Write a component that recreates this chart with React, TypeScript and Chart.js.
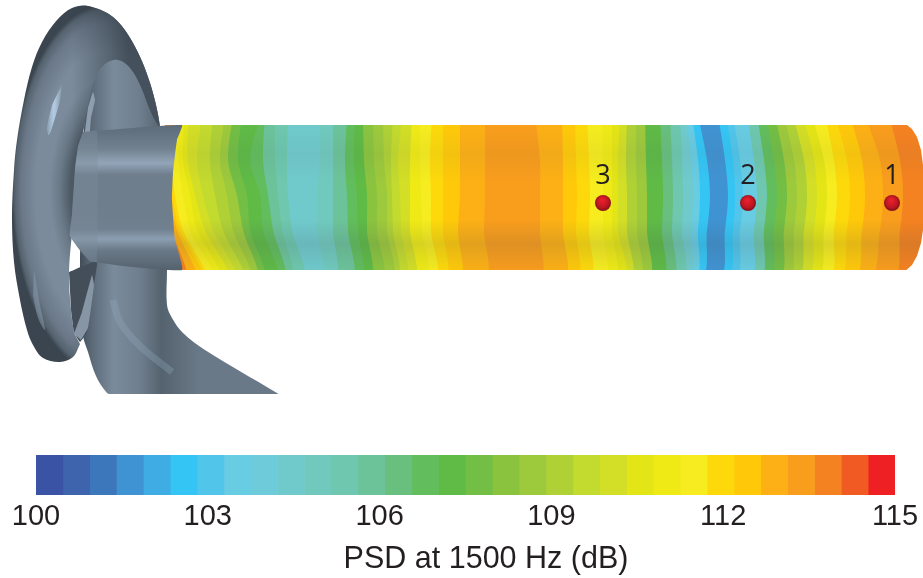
import React, { useEffect, useRef } from "react";
import { Chart, registerables } from "chart.js";

Chart.register(...registerables);

const WIDTH = 923;
const FIELD_HEIGHT = 440;
const BAR_HEIGHT = 138;

// ---------- colour scale ----------
const psdMin = 100;
const psdMax = 115;
const psdTickStep = 3;
const axisTitle = "PSD at 1500 Hz (dB)";
const levelColors = [
  "#3A53A4", "#3E64AE", "#3C77BB", "#4093D2", "#3FACE3", "#35C5F4", "#51C5EA", "#68CCE2",
  "#6ECBD9", "#70CACC", "#71C9BE", "#6EC7AE", "#6CC39A", "#68BF7E", "#62BD5C", "#5FBA46",
  "#73BE45", "#8AC43F", "#9DC93C", "#AFD136", "#C3DA2E", "#D3DE26", "#E4E516", "#EFEA16",
  "#F6EC1F", "#FDD90B", "#FFC90A", "#FDB015", "#F99D1C", "#F58220", "#F15A22", "#EE2024",
];

// ---------- PSD contour bands on the tube: level index and right-hand edge per row ----------
const rowY = [115, 160, 195, 230, 280];
const tubeStart = [165, 165, 165, 165, 165];
const bandLevel = [
  29, 27, 26, 25, 24, 23, 22, 21, 20, 19, 18, 16, 15, 14, 12, 11, 9, 10, 12, 14, 15, 17, 18, 19, 20, 21, 23, 24, 25, 26, 27, 28,
  27, 26, 25, 24, 23, 22, 21, 19, 18, 15, 13, 11, 9, 7, 5, 3, 5, 6, 7, 11, 14, 16, 18, 19, 21, 22, 24, 25, 26, 27, 28, 29,
];
const edgeTop = [
  176, 176, 176, 176, 180, 184, 188, 202, 213, 225, 233, 242, 260, 265, 275, 288, 320, 333, 347, 355, 363, 373, 383, 393, 402, 412, 420, 432, 443, 460, 485, 535,
  562, 575, 587, 602, 612, 620, 627, 636, 645, 660, 670, 680, 686, 692, 698, 718, 726, 733, 747, 757, 766, 775, 784, 793, 803, 812, 825, 835, 850, 865, 889, 924,
];
const edgeUpper = [
  170, 170, 170, 172, 178, 183, 188, 197, 210, 220, 228, 238, 250, 263, 275, 287, 320, 333, 345, 354, 364, 374, 384, 391, 398, 410, 420, 430, 443, 460, 485, 540,
  563, 576, 589, 603, 612, 618, 626, 636, 646, 662, 672, 682, 691, 698, 707, 725, 733, 740, 754, 764, 774, 784, 794, 804, 814, 824, 834, 847, 862, 880, 900, 924,
];
const edgeMiddle = [
  170, 170, 172, 175, 183, 190, 195, 203, 215, 227, 237, 247, 260, 268, 278, 288, 317, 333, 347, 357, 367, 377, 387, 392, 400, 410, 421, 431, 443, 460, 485, 540,
  563, 577, 590, 603, 612, 618, 627, 637, 647, 663, 673, 683, 693, 700, 710, 728, 735, 743, 757, 767, 777, 787, 797, 807, 817, 827, 837, 850, 865, 883, 903, 924,
];
const edgeLower = [
  172, 177, 180, 183, 190, 197, 205, 213, 223, 233, 243, 250, 263, 273, 282, 292, 317, 333, 348, 358, 367, 377, 387, 393, 401, 410, 422, 431, 443, 458, 484, 540,
  563, 576, 589, 603, 612, 618, 627, 637, 647, 662, 672, 682, 691, 698, 707, 725, 733, 740, 754, 764, 774, 784, 794, 804, 814, 824, 834, 847, 862, 880, 900, 924,
];
const edgeBottom = [
  188, 197, 204, 207, 214, 221, 229, 236, 243, 250, 256, 263, 276, 283, 290, 302, 320, 333, 350, 359, 368, 380, 390, 395, 403, 412, 424, 433, 443, 457, 483, 537,
  562, 574, 587, 602, 612, 622, 628, 637, 646, 660, 670, 680, 686, 692, 698, 716, 724, 732, 747, 757, 766, 776, 785, 794, 804, 814, 826, 836, 851, 866, 890, 924,
];
const edgeRows = [edgeTop, edgeUpper, edgeMiddle, edgeLower, edgeBottom];

// ---------- measurement points ----------
const probeNames = ["1", "2", "3"];
const probeX = [892, 748, 603];
const probeY = [203, 203, 203];

// ---------- nozzle outline ----------
const rearBody = [
  [88, 6], [113, 17], [133, 43], [150, 83], [160, 127], [166, 200], [167, 270], [167, 305], [172, 318], [183, 333], [205, 350],
  [277, 393], [278, 394], [268, 394], [112, 394], [107, 393], [96, 376], [88, 352], [83, 335], [80, 260], [85, 100],
];
const frontRing = [
  [80, 344], [73, 357], [60, 362], [43, 358], [33, 345], [27, 330], [20, 300], [14, 262], [12, 217], [14, 170], [17, 140],
  [24, 100], [32, 67], [42, 42], [57, 20], [72, 8], [88, 6], [113, 17], [133, 43], [150, 83], [160, 127], [152, 115], [140, 85], [130, 68], [118, 60], [105, 64],
  [95, 78], [88, 105], [80, 155], [74, 215], [69, 272], [71, 310], [74, 333],
];
const innerShadow = [
  [69, 272], [97, 261], [93, 290], [87, 332], [80, 342], [74, 332], [71, 310],
];
const innerLip = [
  [74, 334], [82, 312], [92, 275], [94, 285], [88, 328], [81, 340],
];
const upperLip = [
  [85, 132], [88, 108], [93, 92], [95, 100], [91, 118], [90, 132],
];
const duct = [
  [83, 132], [182, 125], [177, 140], [173, 173], [172, 200], [175, 240], [182, 270], [90, 261], [70, 236], [72, 215], [75, 170], [78, 146],
];
const flange = [
  [83, 132], [97, 131], [97, 262], [90, 261], [70, 236], [72, 215], [75, 170], [78, 146],
];
const ringGlint = [
  [62, 84], [60, 100], [55, 118], [49, 135], [47, 128], [52, 105],
];
const ringGlintLow = [
  [34, 270], [40, 305], [45, 330], [38, 318], [33, 295],
];
const stemGlint = [
  [113, 300], [120, 322], [140, 346], [172, 372],
];
const tubeShade = [[165, 125], [924, 125], [924, 270], [165, 270]];
const tubeCap = [
  [904, 122], [907, 125], [912, 129], [917, 137], [921, 150], [923, 165], [923, 230], [921, 243], [917, 256], [912, 265], [907, 269.5], [904, 272], [923, 272], [923, 122],
];
const coverAbove = [[100, 90], [923, 90], [923, 125], [100, 125]];
const coverBelow = [[100, 270], [923, 270], [923, 310], [100, 310]];
const coverBase = [[90, 394], [290, 394], [290, 404], [90, 404]];

type Stop = [number, string];
const linear = (x0: number, y0: number, x1: number, y1: number, stops: Stop[]) => (c: any) => {
  const g = c.chart.ctx.createLinearGradient(x0, y0, x1, y1);
  stops.forEach(([o, col]) => g.addColorStop(o, col));
  return g;
};

// ring shading: an elliptical radial gradient, made as a pattern
const elliptical = (cx: number, cy: number, rx: number, ry: number, stops: Stop[]) => {
  let pattern: any = null;
  return (c: any) => {
    if (pattern) return pattern;
    const off = document.createElement("canvas");
    off.width = WIDTH;
    off.height = FIELD_HEIGHT;
    const o = off.getContext("2d")!;
    o.translate(cx, cy);
    o.scale(rx, ry);
    const g = o.createRadialGradient(0, 0, 0, 0, 0, 1);
    stops.forEach(([s, col]) => g.addColorStop(s, col));
    o.fillStyle = g;
    o.fillRect(-10, -10, 20, 20);
    pattern = c.chart.ctx.createPattern(off, "no-repeat");
    return pattern;
  };
};

const shape = (pts: number[][], backgroundColor: any, tension = 0.35) => ({
  data: pts.map(([x, y]) => ({ x, y })),
  showLine: true,
  fill: "shape",
  tension,
  backgroundColor,
  borderWidth: 0,
  pointRadius: 0,
});

// each band reaches from the left end to its own right edge; the later (leftward) ones paint over
const bandShape = (i: number) => ({
  data: [
    ...rowY.map((y, r) => ({ x: tubeStart[r], y })),
    ...rowY.map((y, r) => ({ x: edgeRows[r][i], y })).reverse(),
  ],
  showLine: true,
  fill: "shape",
  tension: 0.3,
  backgroundColor: levelColors[bandLevel[i]],
  borderWidth: 0,
  pointRadius: 0,
});

const probeLabels = {
  id: "probeLabels",
  afterDatasetsDraw(chart: any) {
    const { ctx, scales } = chart;
    ctx.save();
    ctx.fillStyle = "#231F20";
    ctx.font = '27px "Open Sans"';
    ctx.textAlign = "center";
    ctx.textBaseline = "middle";
    probeNames.forEach((name, i) => {
      ctx.fillText(name, scales.x.getPixelForValue(probeX[i]), scales.y.getPixelForValue(probeY[i]) - 27);
    });
    ctx.restore();
  },
};

const barCaption = {
  id: "barCaption",
  afterDraw(chart: any) {
    const { ctx } = chart;
    ctx.save();
    ctx.fillStyle = "#231F20";
    ctx.font = '30.5px "Liberation Sans"';
    ctx.textAlign = "center";
    ctx.textBaseline = "middle";
    ctx.fillText(axisTitle, 486, 120);
    ctx.restore();
  },
};

export default function App() {
  const fieldRef = useRef<HTMLCanvasElement>(null);
  const barRef = useRef<HTMLCanvasElement>(null);

  useEffect(() => {
    const paintOrder: any[] = [
      // tube first, trimmed by white covers, then the nozzle over its left end
      ...bandLevel.map((_, i) => bandShape(i)).reverse(),
      shape(tubeShade, linear(0, 125, 0, 270, [
        [0, "rgba(60,70,80,0)"], [0.2, "rgba(60,70,80,0.06)"], [0.4, "rgba(60,70,80,0)"], [0.65, "rgba(60,70,80,0)"],
        [0.82, "rgba(60,70,80,0.14)"], [1, "rgba(60,70,80,0.02)"],
      ]), 0),
      shape(tubeCap, "#FFFFFF", 0),
      shape(coverAbove, "#FFFFFF", 0),
      shape(coverBelow, "#FFFFFF", 0),
      shape(rearBody, linear(80, 0, 200, 0, [[0, "#414D58"], [0.1, "#5C6A78"], [0.28, "#7A8B9B"], [0.5, "#6F7E8D"], [0.68, "#55636F"], [1, "#6A7988"]])),
      shape(coverBase, "#FFFFFF", 0),
      shape(frontRing, elliptical(106, 190, 94, 185, [
        [0, "#4D5A66"], [0.38, "#4D5A66"], [0.49, "#6A7987"], [0.6, "#7B8B9B"], [0.75, "#7B8B9B"], [0.9, "#6A7888"], [0.97, "#55636F"], [1, "#3A454F"],
      ])),
      shape(frontRing, linear(72, 0, 128, 0, [[0, "rgba(48,58,68,0)"], [1, "rgba(48,58,68,0.72)"]])),
      shape(ringGlint, linear(44, 0, 64, 0, [[0, "rgba(180,205,228,0)"], [0.5, "rgba(180,205,228,1)"], [1, "rgba(180,205,228,0)"]])),
      shape(ringGlintLow, "rgba(140,160,178,0.5)"),
      shape(innerShadow, "#434E59", 0.1),
      shape(innerLip, "#8696A5", 0.1),
      shape(upperLip, "#8D9EAE", 0.1),
      { data: stemGlint.map(([x, y]) => ({ x, y })), showLine: true, fill: false, tension: 0.35, borderColor: "rgba(150,172,192,0.3)", borderWidth: 7, pointRadius: 0 },
      shape(duct, linear(0, 126, 0, 269, [
        [0, "#5D6C7A"], [0.16, "#72818F"], [0.26, "#92A5B8"], [0.34, "#6F7E8D"], [0.6, "#6F7E8D"], [0.72, "#70808F"], [0.79, "#8B9EB1"], [0.87, "#6A7988"], [1, "#55636F"],
      ]), 0.12),
      shape(flange, "rgba(125,140,154,0.4)", 0.1),
    ];

    const probes: any = {
      data: probeX.map((x, i) => ({ x, y: probeY[i] })),
      showLine: false,
      pointRadius: 8,
      pointHoverRadius: 8,
      borderWidth: 0,
      backgroundColor: (c: any) => {
        const p = c.parsed;
        if (!p) return "#C4161C";
        const g = c.chart.ctx.createRadialGradient(p.x - 1, p.y - 3, 1, p.x, p.y, 9);
        g.addColorStop(0, "#E8202A");
        g.addColorStop(0.6, "#BE1622");
        g.addColorStop(1, "#6E0F18");
        return g;
      },
    };

    const field = new Chart(fieldRef.current!, {
      type: "scatter",
      data: { datasets: [probes, ...paintOrder.reverse()] },
      options: {
        animation: false,
        responsive: false,
        events: [],
        layout: { padding: 0, autoPadding: false },
        plugins: { legend: { display: false }, tooltip: { enabled: false } },
        scales: {
          x: { type: "linear", display: false, min: 0, max: WIDTH },
          y: { type: "linear", display: false, reverse: true, min: 0, max: FIELD_HEIGHT },
        },
      },
      plugins: [probeLabels],
    } as any);

    const levelStep = (psdMax - psdMin) / levelColors.length;
    const bar = new Chart(barRef.current!, {
      type: "bar",
      data: {
        labels: ["PSD"],
        datasets: levelColors.map((color, i) => ({
          data: [[psdMin + i * levelStep, psdMin + (i + 1) * levelStep]],
          backgroundColor: color,
          borderWidth: 0,
          grouped: false,
          barPercentage: 1,
          categoryPercentage: 1,
        })),
      },
      options: {
        indexAxis: "y",
        animation: false,
        responsive: false,
        events: [],
        layout: { padding: { left: 36, right: 28, top: 15, bottom: 0 } },
        plugins: { legend: { display: false }, tooltip: { enabled: false } },
        scales: {
          y: { display: false },
          x: {
            type: "linear",
            min: psdMin,
            max: psdMax,
            grid: { display: false },
            border: { display: false },
            afterFit: (s: any) => { s.height = 83; },
            ticks: {
              stepSize: psdTickStep,
              autoSkip: false,
              maxRotation: 0,
              padding: -3,
              color: "#231F20",
              font: { family: '"Liberation Sans"', size: 29 },
            },
          },
        },
      },
      plugins: [barCaption],
    } as any);

    return () => {
      field.destroy();
      bar.destroy();
    };
  }, []);

  return (
    <div style={{ position: "absolute", left: 0, top: 0, width: WIDTH, height: FIELD_HEIGHT + BAR_HEIGHT, background: "#fff", overflow: "hidden" }}>
      <canvas ref={fieldRef} width={WIDTH} height={FIELD_HEIGHT} style={{ position: "absolute", left: 0, top: 0, display: "block" }} />
      <canvas ref={barRef} width={WIDTH} height={BAR_HEIGHT} style={{ position: "absolute", left: 0, top: FIELD_HEIGHT, display: "block" }} />
    </div>
  );
}
